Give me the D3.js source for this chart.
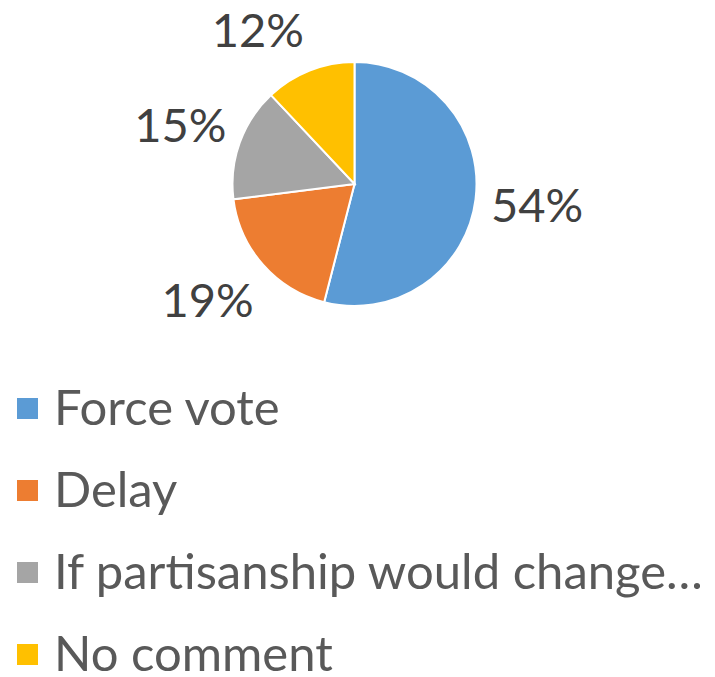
<!DOCTYPE html>
<html>
<head>
<meta charset="utf-8">
<script src="https://cdn.jsdelivr.net/npm/d3@7"></script>
<style>
  html, body { margin: 0; padding: 0; background: #fff; }
  svg { display: block; }
</style>
</head>
<body>
<svg id="chart" width="715" height="677"></svg>
<script>
// Survey responses, share of respondents (%)
const categories = ["Force vote", "Delay", "If partisanship would change…", "No comment"];
const values = [54, 19, 15, 12];
const colors = ["#5B9BD5", "#ED7D31", "#A5A5A5", "#FFC000"];

const svg = d3.select("#chart");
const fontFamily = "'Lato', 'Open Sans', sans-serif";

const cx = 354.5, cy = 184, radius = 122, labelRadius = 184;
const labelSize = 47, legendSize = 49;

const pie = d3.pie().sort(null).value(d => d.value);
const data = categories.map((c, i) => ({ name: c, value: values[i], color: colors[i] }));
const arcs = pie(data);

const arc = d3.arc().innerRadius(0).outerRadius(radius);
const labelArc = d3.arc().innerRadius(labelRadius).outerRadius(labelRadius);

// Small shifts so the outside labels sit clear of the pie and of each other
const labelNudge = [[0, -2], [-9, -6], [-1, 3], [-29, 17]];

const g = svg.append("g").attr("transform", `translate(${cx},${cy})`);

g.selectAll("path.slice")
  .data(arcs)
  .join("path")
  .attr("class", "slice")
  .attr("d", arc)
  .attr("fill", d => d.data.color)
  .attr("stroke", "#fff")
  .attr("stroke-width", 2);

g.selectAll("text.pct")
  .data(arcs)
  .join("text")
  .attr("class", "pct")
  .attr("transform", (d, i) => {
    const [x, y] = labelArc.centroid(d);
    return `translate(${x + labelNudge[i][0]},${y + labelNudge[i][1]})`;
  })
  .attr("y", labelSize * 0.36)
  .attr("text-anchor", "middle")
  .attr("font-family", fontFamily)
  .attr("font-size", labelSize)
  .attr("fill", "#404040")
  .text(d => d.data.value + "%");

// Legend
const legend = svg.append("g").attr("transform", "translate(17,0)");
const rowY = d3.scaleLinear().domain([0, 1]).range([408, 490]);

const rows = legend.selectAll("g.row")
  .data(data)
  .join("g")
  .attr("class", "row")
  .attr("transform", (d, i) => `translate(0,${rowY(i)})`);

rows.append("rect")
  .attr("x", 0).attr("y", -10)
  .attr("width", 21).attr("height", 21)
  .attr("fill", d => d.color);

rows.append("text")
  .attr("x", 37)
  .attr("y", 17)
  .attr("font-family", fontFamily)
  .attr("font-size", legendSize)
  .attr("fill", "#595959")
  .text(d => d.name);
</script>
</body>
</html>
